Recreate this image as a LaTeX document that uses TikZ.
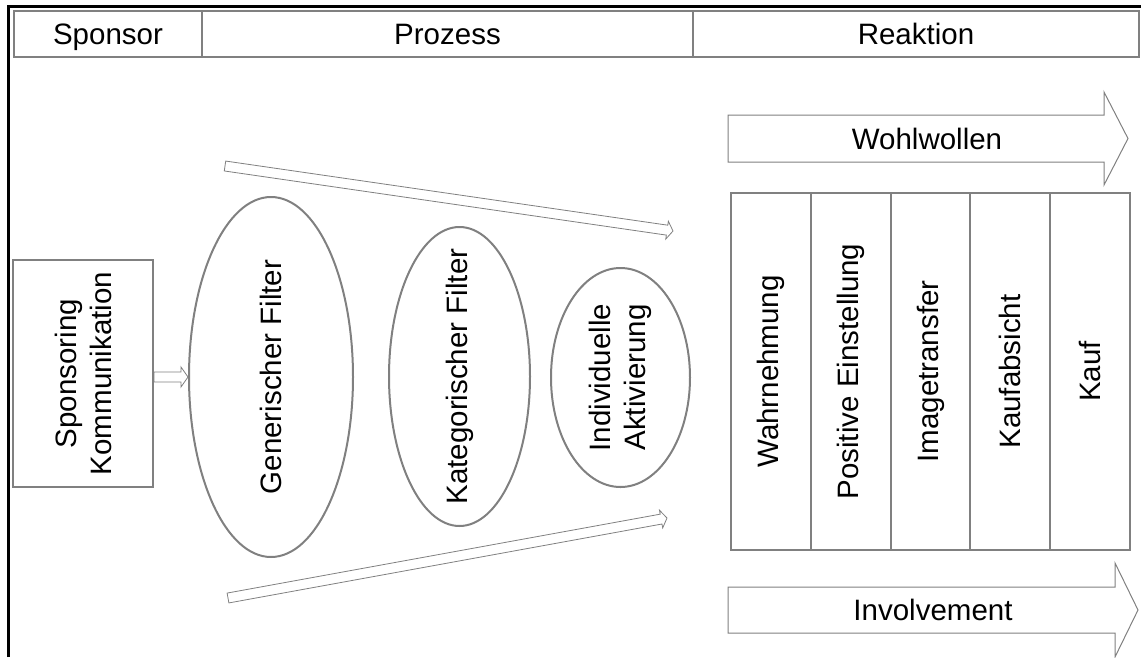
\documentclass[tikz,border=0pt]{standalone}
\usepackage{fontspec}
\setmainfont{Liberation Sans}
\usetikzlibrary{calc,shapes.geometric}
\definecolor{linegray}{HTML}{808080}

% hollow double-line arrow: #1 start, #2 tip, #3 half shaft width, #4 half head width, #5 head length
\newcommand\hollowarrow[5]{%
  \path ($(#2)!#5!(#1)$) coordinate (hb);
  \draw[hollow] ($(#1)!#3!90:(#2)$) -- ($(hb)!#3!-90:(#1)$) -- ($(hb)!#4!-90:(#1)$)
    -- (#2) -- ($(hb)!#4!90:(#1)$) -- ($(hb)!#3!90:(#1)$) -- ($(#1)!#3!-90:(#2)$) -- cycle;
}

\begin{document}
\begin{tikzpicture}[x=1pt,y=-1pt,
  every node/.style={font=\fontsize{29.5}{35}\selectfont, text=black},
  box/.style={draw=linegray, line width=2pt, rectangle, inner sep=0pt},
  headbox/.style={box, minimum height=46pt, text height=21pt, text depth=0pt},
  vbox/.style={box, rotate=90, align=center},
  filter/.style={draw=linegray, line width=2pt, ellipse, inner sep=0pt, rotate=90},
  vtext/.style={rotate=90, align=center, inner sep=0pt},
  hollow/.style={draw=linegray, line width=0.8pt, fill=white, line join=miter},
  bigarrow/.style={draw=linegray, line width=1pt, fill=white, line join=miter},
  frameline/.style={draw=black, line width=3pt}]

\useasboundingbox (0,0) rectangle (1141,657);

% outer frame
\draw[frameline] (8,657) -- (8,6) -- (1141,6);

% header row
\node[headbox, minimum width=188pt] (hsp) at (108,34) {Sponsor};
\node[headbox, minimum width=491pt] (hpr) at (447.5,34) {Prozess};
\node[headbox, minimum width=446pt] (hre) at (916,34) {Reaktion};

% sponsor box
\node[vbox, minimum width=227pt, minimum height=140pt] (spon) at (83,373.5) {Sponsoring\\Kommunikation};

% filters
\node[filter, minimum width=360pt, minimum height=164pt] (gen) at (271,377) {};
\node[vtext] (gent) at (gen) {Generischer Filter};
\node[filter, minimum width=299pt, minimum height=141pt] (kat) at (459.5,376.5) {};
\node[vtext] (katt) at (kat) {Kategorischer Filter};
\node[filter, minimum width=219pt, minimum height=139pt] (ind) at (620.5,377.5) {};
\node[vtext] (indt) at (ind) {Individuelle\\Aktivierung};

% reaction stages
\node[vbox, minimum width=357pt, minimum height=80pt] (c1) at (771,371.5) {Wahrnehmung};
\node[vbox, minimum width=357pt, minimum height=80pt] (c2) at (851,371.5) {Positive Einstellung};
\node[vbox, minimum width=357pt, minimum height=79pt] (c3) at (930.5,371.5) {Imagetransfer};
\node[vbox, minimum width=357pt, minimum height=80pt] (c4) at (1010,371.5) {Kaufabsicht};
\node[vbox, minimum width=357pt, minimum height=80pt] (c5) at (1090,371.5) {Kauf};

% block arrows
\draw[bigarrow] (728,115) -- (1104,115) -- (1104,92) -- (1128,138.5) -- (1104,185)
  -- (1104,162) -- (728,162) -- cycle;
\node (wohl) at (927,138.5) {Wohlwollen};
\draw[bigarrow] (728,587) -- (1115,587) -- (1115,563) -- (1138,610) -- (1115,657)
  -- (1115,633) -- (728,633) -- cycle;
\node (invo) at (933,610) {Involvement};

% thin hollow arrows
\coordinate (sa1) at (spon.south |- gen.north);
\coordinate (sa2) at (gen.north);
\hollowarrow{sa1}{sa2}{5pt}{10pt}{7pt}
\coordinate (ta1) at (225,166);
\coordinate (ta2) at (673,231);
\hollowarrow{ta1}{ta2}{5pt}{9pt}{6pt}
\coordinate (ba1) at (228,598);
\coordinate (ba2) at (667,518);
\hollowarrow{ba1}{ba2}{5pt}{9pt}{6pt}

\end{tikzpicture}
\end{document}
